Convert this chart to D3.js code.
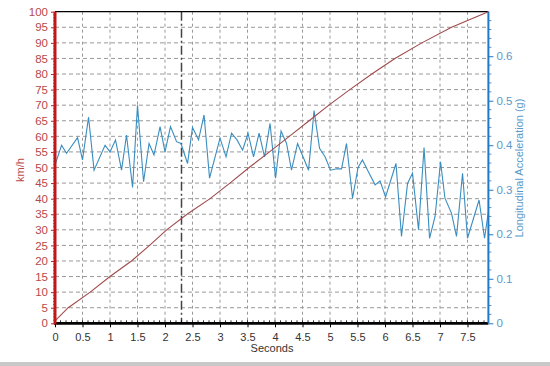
<!DOCTYPE html>
<html><head><meta charset="utf-8">
<script src="https://cdn.jsdelivr.net/npm/d3@7/dist/d3.min.js"></script>
<style>body{margin:0;background:#fff}svg{display:block}text{font-family:"Liberation Sans",Arial,sans-serif}</style>
</head><body>
<svg id="c" width="550" height="366"></svg>
<script>
// Speed (km/h) vs time (s)
const speedTime = [0, 0.24, 0.64, 1.0, 1.39, 1.72, 2.03, 2.40, 2.82, 3.18, 3.53, 3.90, 4.26, 4.62, 4.98, 5.36, 5.76, 6.18, 6.67, 7.21, 7.88];
const speedKmh  = [0.8, 5, 10, 15, 20, 25, 30, 35, 40, 45, 50, 55, 60, 65, 70, 75, 80, 85, 90, 95, 100];
// Longitudinal acceleration (g) vs time (s)
const accelTime = [0,0.12,0.21,0.41,0.50,0.61,0.71,0.91,1.00,1.10,1.21,1.30,1.41,1.50,1.61,1.71,1.80,1.91,2.00,2.10,2.21,2.29,2.41,2.50,2.61,2.71,2.81,3.00,3.11,3.21,3.31,3.41,3.51,3.61,3.71,3.81,3.91,4.01,4.11,4.21,4.30,4.41,4.51,4.61,4.71,4.81,4.91,5.01,5.12,5.21,5.30,5.41,5.51,5.59,5.70,5.82,5.91,6.01,6.20,6.30,6.41,6.50,6.61,6.71,6.81,6.91,7.01,7.09,7.21,7.30,7.41,7.50,7.71,7.81,7.88];
const accelG    = [0.356,0.400,0.382,0.417,0.367,0.463,0.344,0.400,0.385,0.412,0.344,0.423,0.305,0.490,0.318,0.404,0.378,0.442,0.385,0.442,0.408,0.404,0.359,0.440,0.412,0.468,0.326,0.416,0.374,0.427,0.412,0.389,0.427,0.374,0.427,0.374,0.449,0.326,0.432,0.404,0.344,0.404,0.374,0.344,0.478,0.393,0.374,0.344,0.347,0.347,0.404,0.281,0.350,0.367,0.340,0.311,0.320,0.284,0.359,0.195,0.314,0.337,0.210,0.395,0.191,0.240,0.363,0.281,0.247,0.195,0.337,0.191,0.277,0.191,0.251];
const marker = 2.30;
const xTicks = [0,0.5,1,1.5,2,2.5,3,3.5,4,4.5,5,5.5,6,6.5,7,7.5];
const xLabels = ["0","0.5","1","1.5","2","2.5","3","3.5","4","4.5","5","5.5","6","6.5","7","7.5"];
const yLTicks = [0,5,10,15,20,25,30,35,40,45,50,55,60,65,70,75,80,85,90,95,100];
const yRTicks = [0,0.1,0.2,0.3,0.4,0.5,0.6];

const svg = d3.select("#c");
const L = 55, R = 488.4, T = 11.7, B = 323.3;
const x = d3.scaleLinear().domain([0, 7.88]).range([L, R]);
const yL = d3.scaleLinear().domain([0, 100]).range([B, T]);
const yR = d3.scaleLinear().domain([0, 0.7]).range([B, T]);

// bottom grey band (frame)
svg.append("rect").attr("x",0).attr("y",362).attr("width",550).attr("height",4).attr("fill","#c8c8c8");

// grid
const g = svg.append("g");
g.selectAll("line.v").data(xTicks.filter(d=>d>0)).join("line")
  .attr("x1",d=>x(d)).attr("x2",d=>x(d)).attr("y1",T).attr("y2",B)
  .attr("stroke","#999").attr("stroke-width",1).attr("stroke-dasharray","3,3");
g.selectAll("line.h").data(yLTicks.filter(d=>d>0&&d<100)).join("line")
  .attr("y1",d=>yL(d)).attr("y2",d=>yL(d)).attr("x1",L).attr("x2",R)
  .attr("stroke","#999").attr("stroke-width",1).attr("stroke-dasharray","4,3");

// marker line
svg.append("line").attr("x1",x(marker)).attr("x2",x(marker)).attr("y1",T).attr("y2",B)
  .attr("stroke","#4a4040").attr("stroke-width",1.5).attr("stroke-dasharray","9,3,2,3");

// top border
svg.append("line").attr("x1",L).attr("x2",R).attr("y1",T).attr("y2",T).attr("stroke","#000").attr("stroke-width",1.3);

// series
const accel = accelTime.map((t,i)=>[t,accelG[i]]);
const speed = speedTime.map((t,i)=>[t,speedKmh[i]]);
svg.append("path").datum(accel)
  .attr("d", d3.line().x(d=>x(d[0])).y(d=>yR(d[1])))
  .attr("fill","none").attr("stroke","#3a8dbf").attr("stroke-width",1.1);
svg.append("path").datum(speed)
  .attr("d", d3.line().x(d=>x(d[0])).y(d=>yL(d[1])))
  .attr("fill","none").attr("stroke","#a04a4a").attr("stroke-width",1.1);

// bottom axis
const xa = svg.append("g").attr("transform",`translate(0,${B})`);
xa.call(d3.axisBottom(x).tickValues(xTicks).tickFormat((d,i)=>xLabels[i]).tickSize(4).tickPadding(6));
xa.select(".domain").remove();
xa.selectAll("line").attr("stroke","#000");
xa.selectAll("text").attr("fill","#333").attr("font-size","11px").attr("font-family","Liberation Sans, Arial, sans-serif");
const minorX = d3.range(1, 79).map(i=>i/10);
xa.selectAll("line.mx").data(minorX).join("line").attr("class","mx")
  .attr("x1",d=>x(d)).attr("x2",d=>x(d)).attr("y1",0).attr("y2",-3).attr("stroke","#000").attr("stroke-width",0.8);
xa.append("line").attr("x1",L-1).attr("x2",R).attr("y1",0).attr("y2",0).attr("stroke","#000").attr("stroke-width",2.7);

// left axis
const la = svg.append("g").attr("transform",`translate(${L},0)`);
la.call(d3.axisLeft(yL).tickValues(yLTicks).tickSize(4).tickPadding(3));
la.select(".domain").remove();
la.selectAll("line").attr("stroke","#c02020");
la.selectAll("text").attr("fill","#b84848").attr("font-size","11.5px").attr("font-family","Liberation Sans, Arial, sans-serif");
const minorL = d3.range(1,100).filter(v=>v%5!==0);
la.selectAll("line.ml").data(minorL).join("line").attr("class","ml")
  .attr("x1",0).attr("x2",-2).attr("y1",d=>yL(d)).attr("y2",d=>yL(d)).attr("stroke","#c02020").attr("stroke-width",0.7);
la.append("line").attr("x1",0).attr("x2",0).attr("y1",T).attr("y2",B+1).attr("stroke","#c01818").attr("stroke-width",3);

// right axis
const ra = svg.append("g").attr("transform",`translate(${R},0)`);
ra.call(d3.axisRight(yR).tickValues(yRTicks).tickFormat(d=>d===0?"0":d3.format(".1f")(d)).tickSize(5).tickPadding(3));
ra.select(".domain").remove();
ra.selectAll("line").attr("stroke","#1f78c8");
ra.selectAll("text").attr("fill","#5a9acb").attr("font-size","11.5px").attr("font-family","Liberation Sans, Arial, sans-serif");
const minorR = d3.range(1,35).filter(i=>i%5!==0).map(i=>i*0.02);
ra.selectAll("line.mr").data(minorR).join("line").attr("class","mr")
  .attr("x1",0).attr("x2",3).attr("y1",d=>yR(d)).attr("y2",d=>yR(d)).attr("stroke","#1f78c8").attr("stroke-width",0.8);
ra.append("line").attr("x1",0).attr("x2",0).attr("y1",T).attr("y2",B).attr("stroke","#1f78c8").attr("stroke-width",2);

// axis titles
svg.append("text").attr("x",272).attr("y",352).attr("text-anchor","middle").attr("font-size","11px").attr("fill","#333").text("Seconds");
svg.append("text").attr("transform","translate(24,170) rotate(-90)").attr("text-anchor","middle").attr("font-size","11px").attr("fill","#b84848").text("km/h");
svg.append("text").attr("transform","translate(523,168) rotate(-90)").attr("text-anchor","middle").attr("font-size","11px").attr("fill","#5a9acb").text("Longitudinal Acceleration (g)");
</script>
</body></html>
